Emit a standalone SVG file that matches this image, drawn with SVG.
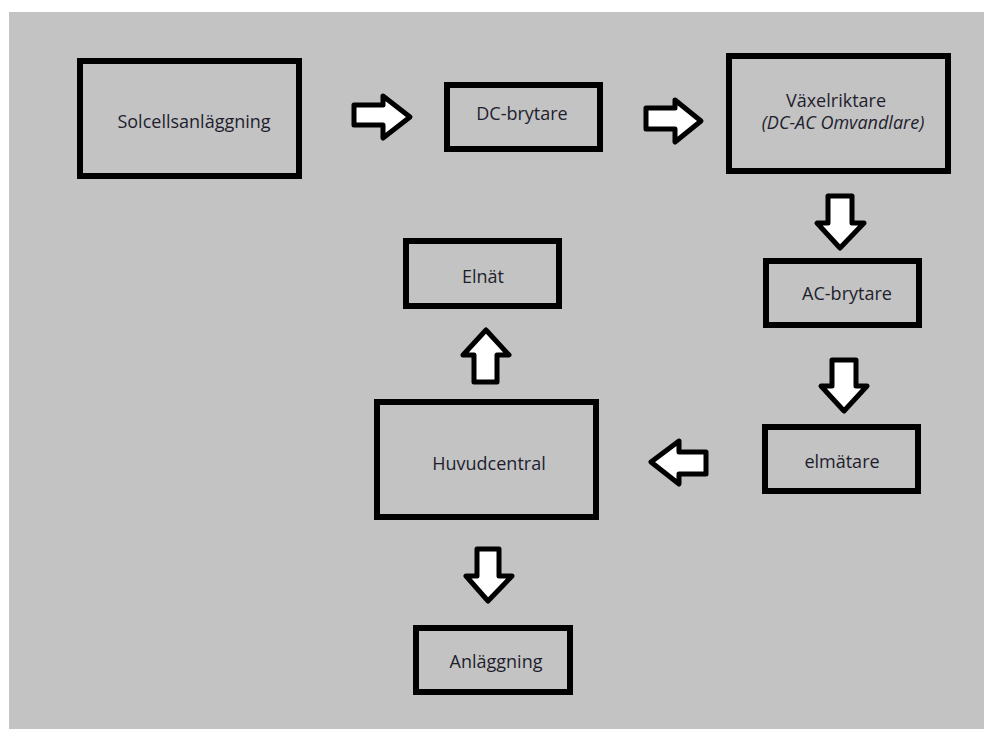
<svg xmlns="http://www.w3.org/2000/svg" width="984" height="729" viewBox="0 0 984 729">
  <style>
    .box { fill: none; stroke: #000; stroke-width: 6; }
    .arr { fill: #fff; stroke: #000; stroke-width: 5; stroke-linejoin: round; }
    .lbl { font-family: "Open Sans", Lato, "Liberation Sans", sans-serif; font-size: 18px; fill: #1e1e2e; text-anchor: middle; }
    .it { font-style: italic; }
  </style>
  <rect x="0" y="0" width="984" height="729" fill="#fff"/>
  <rect x="9" y="12" width="975" height="717" fill="#c3c3c3"/>

  <g id="solcellsanlaggning">
    <rect class="box" x="80" y="61" width="219" height="115"/>
    <text class="lbl" x="194" y="128">Solcellsanläggning</text>
  </g>
  <g id="dc-brytare">
    <rect class="box" x="447" y="85" width="153" height="64"/>
    <text class="lbl" x="522" y="120">DC-brytare</text>
  </g>
  <g id="vaxelriktare">
    <rect class="box" x="729" y="56" width="219" height="115"/>
    <text class="lbl" x="836" y="107">Växelriktare</text>
    <text class="lbl it" x="843" y="129">(DC-AC Omvandlare)</text>
  </g>
  <g id="ac-brytare">
    <rect class="box" x="766" y="261" width="153" height="64"/>
    <text class="lbl" x="847" y="300">AC-brytare</text>
  </g>
  <g id="elmatare">
    <rect class="box" x="765" y="427" width="153" height="64"/>
    <text class="lbl" x="842" y="468">elmätare</text>
  </g>
  <g id="huvudcentral">
    <rect class="box" x="377" y="402" width="219" height="115"/>
    <text class="lbl" x="489" y="470">Huvudcentral</text>
  </g>
  <g id="elnat">
    <rect class="box" x="406" y="241" width="153" height="65"/>
    <text class="lbl" x="483" y="283">Elnät</text>
  </g>
  <g id="anlaggning">
    <rect class="box" x="416" y="628" width="154" height="64"/>
    <text class="lbl" x="496" y="668">Anläggning</text>
  </g>

  <g id="connectors">
    <polygon class="arr" points="354,105 383,105 383,96 410,117 383,138 383,125 354,125"/>
    <polygon class="arr" points="646,108 675,108 675,100 701,121 675,142 675,129 646,129"/>
    <polygon class="arr" points="828,196 852,196 852,223 864,223 840,248 817,223 828,223"/>
    <polygon class="arr" points="832,360 856,360 856,386 867,386 844,411 821,386 832,386"/>
    <polygon class="arr" points="706,452 679,452 679,441 651,462 679,484 679,474 706,474"/>
    <polygon class="arr" points="474,382 474,355 463,355 486,330 509,355 497,355 497,382"/>
    <polygon class="arr" points="477,549 499,549 499,576 512,576 488,601 466,576 477,576"/>
  </g>
</svg>
